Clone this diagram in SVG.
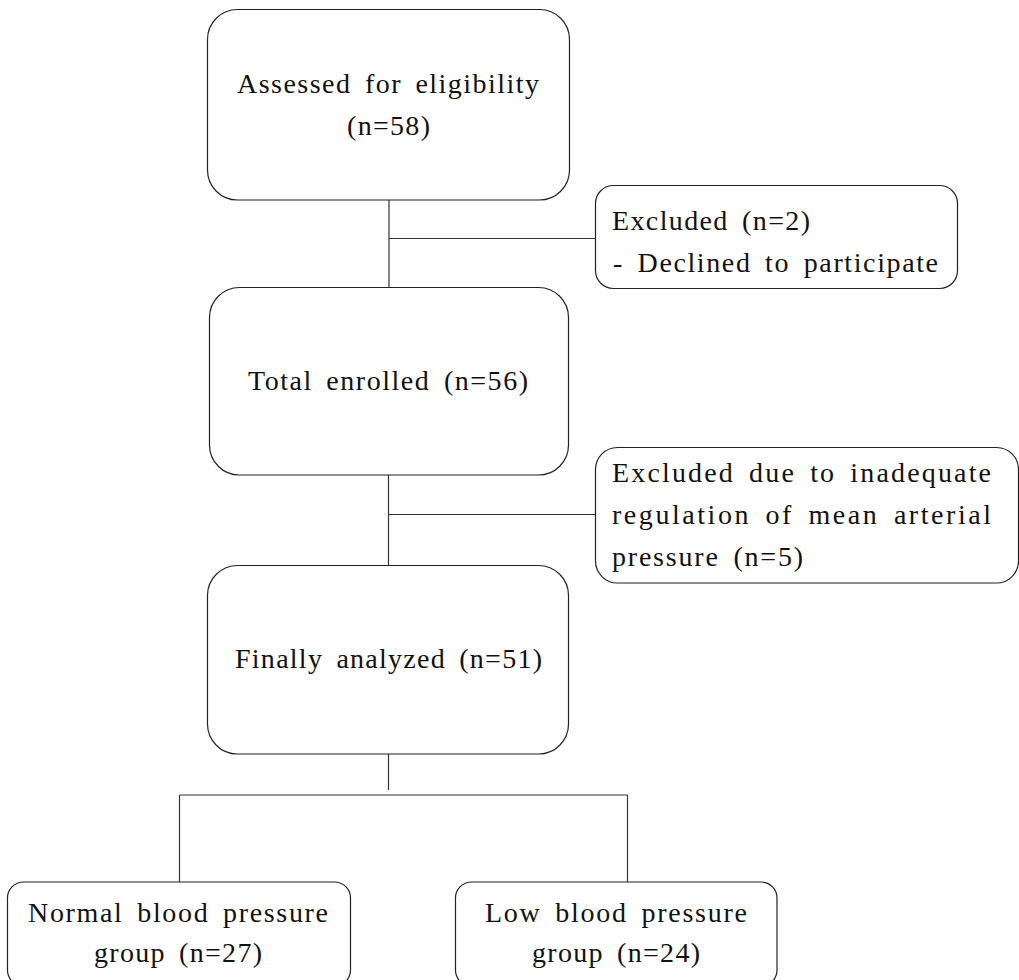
<svg xmlns="http://www.w3.org/2000/svg" width="1019" height="980" viewBox="0 0 1019 980">
<style>
.box{fill:#fff;stroke:#222;stroke-width:1.2}
.ln{stroke:#333;stroke-width:1.2;fill:none}
text{font-family:"Liberation Serif","Times New Roman",serif;font-size:28px;fill:#111;word-spacing:5px}
</style>
<rect width="1019" height="980" fill="#fff"/>
<g id="connectors">
<line class="ln" x1="389" y1="200" x2="389" y2="288"/>
<line class="ln" x1="389" y1="238.5" x2="595" y2="238.5"/>
<line class="ln" x1="388.5" y1="475" x2="388.5" y2="565"/>
<line class="ln" x1="388.5" y1="514.5" x2="595" y2="514.5"/>
<line class="ln" x1="388.5" y1="754" x2="388.5" y2="790"/>
<line class="ln" x1="179.5" y1="795" x2="627.5" y2="795"/>
<line class="ln" x1="179.5" y1="795" x2="179.5" y2="882"/>
<line class="ln" x1="627.5" y1="795" x2="627.5" y2="882"/>
</g>
<g id="assessed">
<rect class="box" x="207.5" y="9.5" width="362" height="190.5" rx="30" ry="30"/>
<text x="237" y="93" textLength="302" lengthAdjust="spacing">Assessed for eligibility</text>
<text x="347" y="135" textLength="83" lengthAdjust="spacing">(n=58)</text>
</g>
<g id="excluded1">
<rect class="box" x="595.5" y="185.5" width="362" height="103" rx="18" ry="18"/>
<text x="612" y="230" textLength="198" lengthAdjust="spacing">Excluded (n=2)</text>
<text x="613" y="272" textLength="325" lengthAdjust="spacing">- Declined to participate</text>
</g>
<g id="enrolled">
<rect class="box" x="209.5" y="287.5" width="359" height="187.5" rx="30" ry="30"/>
<text x="248" y="390" textLength="280" lengthAdjust="spacing">Total enrolled (n=56)</text>
</g>
<g id="excluded2">
<rect class="box" x="595.5" y="447.5" width="423" height="135.5" rx="22" ry="22"/>
<text x="612" y="482" textLength="379" lengthAdjust="spacing">Excluded due to inadequate</text>
<text x="612" y="524" textLength="379" lengthAdjust="spacing">regulation of mean arterial</text>
<text x="612" y="566" textLength="191" lengthAdjust="spacing">pressure (n=5)</text>
</g>
<g id="analyzed">
<rect class="box" x="207.5" y="565.5" width="361" height="188.5" rx="30" ry="30"/>
<text x="235" y="668" textLength="307" lengthAdjust="spacing">Finally analyzed (n=51)</text>
</g>
<g id="normal">
<rect class="box" x="7.5" y="882" width="343" height="104" rx="16" ry="16"/>
<text x="28" y="922" textLength="300" lengthAdjust="spacing">Normal blood pressure</text>
<text x="94" y="962" textLength="168" lengthAdjust="spacing">group (n=27)</text>
</g>
<g id="low">
<rect class="box" x="455.5" y="882" width="321.5" height="104" rx="16" ry="16"/>
<text x="485" y="922" textLength="262" lengthAdjust="spacing">Low blood pressure</text>
<text x="532" y="962" textLength="168" lengthAdjust="spacing">group (n=24)</text>
</g>
</svg>
